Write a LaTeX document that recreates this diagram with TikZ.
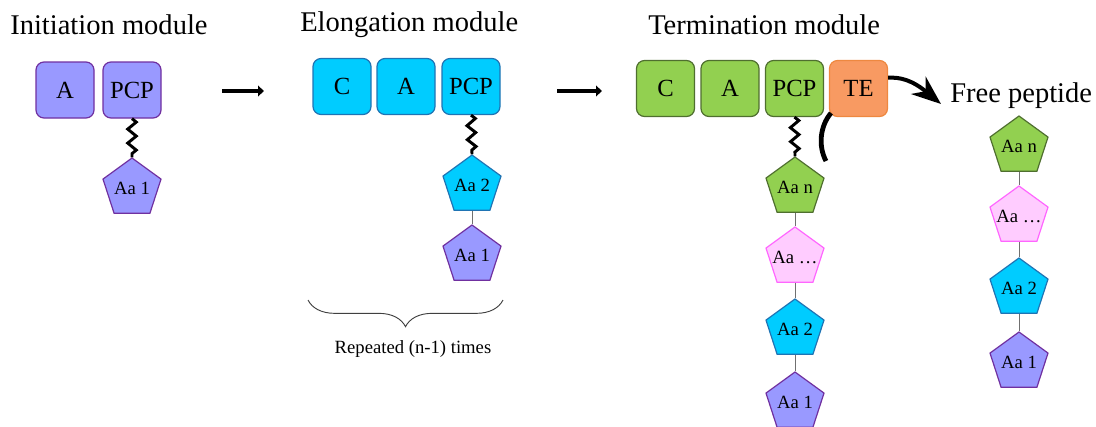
\documentclass[tikz,border=0pt]{standalone}
\usepackage{fontspec}
\setmainfont{Liberation Serif}
\usetikzlibrary{shapes.geometric,arrows.meta,decorations.pathmorphing,decorations.pathreplacing}

\definecolor{lavfill}{HTML}{9999FF}
\definecolor{lavline}{HTML}{7030A0}
\definecolor{cyfill}{HTML}{00CCFF}
\definecolor{cyline}{HTML}{1F74B4}
\definecolor{grfill}{HTML}{92D050}
\definecolor{grline}{HTML}{4F6F2F}
\definecolor{pkfill}{HTML}{FFCCFF}
\definecolor{pkline}{HTML}{FF66FF}
\definecolor{tefill}{HTML}{F89A62}
\definecolor{teline}{HTML}{EE8840}
\definecolor{linkgray}{HTML}{707070}

\tikzset{
  title/.style={anchor=base west, inner sep=0pt, font=\fontsize{21.4}{24}\selectfont},
  dom/.style={draw, rounded corners=6pt, line width=0.9pt, minimum width=43.5pt,
    minimum height=42pt, inner sep=0pt, font=\fontsize{18.5}{20}\selectfont},
  lav/.style={fill=lavfill, draw=lavline},
  cy/.style={fill=cyfill, draw=cyline},
  gr/.style={fill=grfill, draw=grline},
  pk/.style={fill=pkfill, draw=pkline},
  te/.style={fill=tefill, draw=teline},
  aa/.style={regular polygon, regular polygon sides=5, line width=0.9pt,
    minimum size=45.75pt, inner sep=0pt, font=\fontsize{14}{15}\selectfont},
  zz/.style={line width=2.2pt, decorate,
    decoration={zigzag, segment length=10.5pt, amplitude=3.2pt}},
  link/.style={draw=linkgray, line width=0.75pt},
  bigarrow/.style={line width=3pt, -{Triangle[length=4.5pt,width=8pt]}},
}
% residue label whose width does not enlarge the pentagon
\newcommand{\res}[1]{\makebox[0pt]{#1}}

\begin{document}
\begin{tikzpicture}[x=0.75pt,y=-0.75pt]
\useasboundingbox (0,0) rectangle (1096,426);

% module titles
\node[title] (t1) at (10,34) {Initiation module};
\node[title] (t2) at (300,31) {Elongation module};
\node[title] (t3) at (648,34) {Termination module};
\node[title] (t4) at (950,102) {Free peptide};

% initiation module
\node[dom,lav] (iA) at (65,90) {A};
\node[dom,lav] (iP) at (132,90) {PCP};
\node[aa,lav] (i1) at (132,188.5) {\res{Aa 1}};
\draw[zz] (iP.south) -- (i1.north);

% arrow to elongation
\coordinate (a1s) at (222,91);
\coordinate (a1e) at (264,91);
\draw[bigarrow] (a1s) -- (a1e);

% elongation module
\node[dom,cy] (eC) at (342,86.5) {C};
\node[dom,cy] (eA) at (406,86.5) {A};
\node[dom,cy] (eP) at (471,86.5) {PCP};
\node[aa,cy] (e2) at (472,185.5) {\res{Aa 2}};
\node[aa,lav] (e1) at (472,255.5) {\res{Aa 1}};
\draw[zz] (eP.south) -- (e2.north);
\draw[link] (e2.south) -- (e1.north);

% brace under the repeated module
\coordinate (b1) at (308,300);
\coordinate (b2) at (503,300);
\draw[draw=black!75, line width=0.7pt, decorate,
  decoration={brace, mirror, amplitude=20pt}] (b1) -- (b2);
\node[font=\fontsize{14}{16}\selectfont] (rep) at (413,349) {Repeated (n-1) times};

% arrow to termination
\coordinate (a2s) at (557,91);
\coordinate (a2e) at (602,91);
\draw[bigarrow] (a2s) -- (a2e);

% termination module
\node[dom,gr] (tC) at (665.5,88.5) {C};
\node[dom,gr] (tA) at (730,88.5) {A};
\node[dom,gr] (tP) at (794.5,88.5) {PCP};
\node[dom,te] (tT) at (858.5,88.5) {TE};
\node[aa,gr] (tn) at (795,187.5) {\res{Aa n}};
\node[aa,pk] (tx) at (795,257.5) {\res{Aa …}};
\node[aa,cy] (t2a) at (795,329.5) {\res{Aa 2}};
\node[aa,lav] (t1a) at (795,402.5) {\res{Aa 1}};
\draw[zz] (tP.south) -- (tn.north);
\draw[link] (tn.south) -- (tx.north);
\draw[link] (tx.south) -- (t2a.north);
\draw[link] (t2a.south) -- (t1a.north);

% thioesterase cleavage mark
\coordinate (c1) at (831,113);
\coordinate (c2) at (826,161);
\draw[line width=3.6pt] (c1) .. controls (820,126) and (818,146) .. (c2);

% release of the peptide
\coordinate (rel) at (941,104);
\draw[line width=3pt, -{Stealth[length=22pt,width=17pt,inset=7pt]}]
  (tT.20) .. controls (900,77) and (912,80) .. (rel);

% free peptide chain
\node[aa,gr] (fn) at (1019,146.5) {\res{Aa n}};
\node[aa,pk] (fx) at (1019,216.5) {\res{Aa …}};
\node[aa,cy] (f2) at (1019,288.5) {\res{Aa 2}};
\node[aa,lav] (f1) at (1019,362.5) {\res{Aa 1}};
\draw[link] (fn.south) -- (fx.north);
\draw[link] (fx.south) -- (f2.north);
\draw[link] (f2.south) -- (f1.north);
\end{tikzpicture}
\end{document}
